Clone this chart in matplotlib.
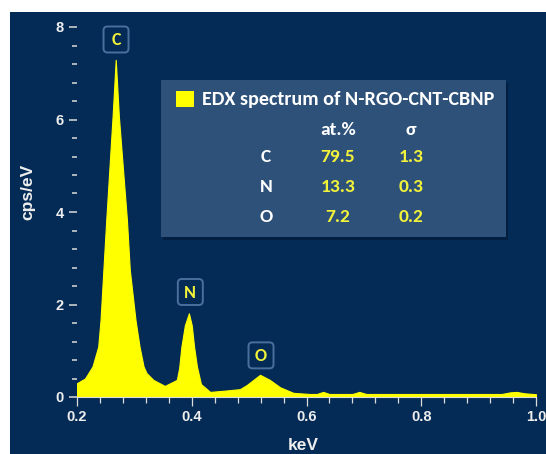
import matplotlib.pyplot as plt
from matplotlib.patches import Rectangle, FancyBboxPatch
from matplotlib.ticker import MultipleLocator

# EDX spectrum, counts per eV vs energy
kev = [0.200, 0.214, 0.227, 0.237, 0.241, 0.246, 0.251, 0.262, 0.2675, 0.273,
       0.287, 0.292, 0.302, 0.309, 0.316, 0.321, 0.333, 0.353, 0.374, 0.378,
       0.382, 0.388, 0.395, 0.400, 0.404, 0.409, 0.416, 0.432, 0.460, 0.484,
       0.496, 0.519, 0.536, 0.554, 0.577, 0.606, 0.618, 0.629, 0.640, 0.680,
       0.692, 0.704, 0.940, 0.955, 0.966, 0.980, 1.000]
cps = [0.30, 0.40, 0.66, 1.09, 1.66, 2.75, 3.83, 6.06, 7.29, 6.06,
       3.83, 2.75, 1.66, 1.09, 0.66, 0.52, 0.37, 0.24, 0.37, 0.62,
       1.09, 1.55, 1.81, 1.55, 1.09, 0.66, 0.28, 0.11, 0.14, 0.17,
       0.26, 0.48, 0.37, 0.21, 0.09, 0.065, 0.065, 0.11, 0.065, 0.065,
       0.11, 0.065, 0.065, 0.10, 0.11, 0.08, 0.06]

# peak markers: element, energy, height of the label
peak_names = ["C", "N", "O"]
peak_kev = [0.268, 0.3975, 0.5207]
peak_label_y = [7.73, 2.27, 0.90]

# quantification table
elements = ["C", "N", "O"]
at_percent = ["79.5", "13.3", "7.2"]
sigma = ["1.3", "0.3", "0.2"]
legend_title = "EDX spectrum of N-RGO-CNT-CBNP"

NAVY = "#042b56"
PANEL = "#2d5179"
YELLOW = "#ffff00"
LABEL_YEL = "#f2f23a"
GREY = "#dcdcdc"
AXFONT = "Liberation Sans"
BOXFONT = "Carlito"

W, H = 546, 454
fig = plt.figure(figsize=(W / 100, H / 100), dpi=100)
fig.patch.set_facecolor("white")


def fx(px):
    return px / W


def fy(py):
    return 1 - py / H


# dark backdrop
fig.patches.append(Rectangle((fx(10), 0), 1 - fx(10), fy(12), transform=fig.transFigure,
                             facecolor=NAVY, edgecolor="none", zorder=-5))

ax_l, ax_r, ax_t, ax_b = 77, 536, 27, 397
ax = fig.add_axes([fx(ax_l), fy(ax_b), fx(ax_r) - fx(ax_l), fy(ax_t) - fy(ax_b)])
ax.patch.set_alpha(0)

ax.fill_between(kev, 0, cps, color=YELLOW, lw=0.8, zorder=2)

xmin, xmax, ymin, ymax = 0.2, 1.0, 0, 8
ax.set_xlim(xmin, xmax)
ax.set_ylim(ymin, ymax)
ax.xaxis.set_major_locator(MultipleLocator(0.2))
ax.xaxis.set_minor_locator(MultipleLocator(0.04))
ax.yaxis.set_major_locator(MultipleLocator(2))
ax.yaxis.set_minor_locator(MultipleLocator(0.4))
ax.xaxis.set_major_formatter(plt.FuncFormatter(lambda v, p: f"{v:.1f}"))

for s in ["top", "right", "left"]:
    ax.spines[s].set_visible(False)
ax.spines["bottom"].set_color(GREY)
ax.spines["bottom"].set_linewidth(0.8)

ax.tick_params(axis="both", which="both", colors=GREY, direction="out")
ax.tick_params(axis="y", which="major", length=5.5, width=1.1, pad=4, labelsize=10.5)
ax.tick_params(axis="y", which="minor", length=3.5, width=1.1)
ax.tick_params(axis="x", which="major", length=6.5, width=0.9, pad=3, labelsize=10.5)
ax.tick_params(axis="x", which="minor", length=4, width=0.9)
for lab in ax.get_xticklabels() + ax.get_yticklabels():
    lab.set_fontweight("bold")
    lab.set_family(AXFONT)
    lab.set_color("#eeeeee")

fig.text(fx(303), fy(446), "keV", color="#eeeeee", fontsize=12.5, fontweight="bold",
         family=AXFONT, ha="center", va="center")
fig.text(fx(28), fy(192), "cps/eV", color="#eeeeee", fontsize=12.5, fontweight="bold",
         family=AXFONT, ha="center", va="center", rotation=90)

# element labels above the peaks: rounded frames ~25x26 px
kx = (xmax - xmin) / (ax_r - ax_l)   # keV per pixel
ky = (ymax - ymin) / (ax_b - ax_t)   # cps/eV per pixel
bw, bh = 25 * kx, 26 * ky
for name, xk, yl in zip(peak_names, peak_kev, peak_label_y):
    ax.add_patch(FancyBboxPatch((xk - bw / 2, yl - bh / 2), bw, bh,
                                boxstyle=f"round,pad=0,rounding_size={4 * kx}",
                                mutation_aspect=ky / kx, fc=NAVY, ec="#4a6f9c",
                                lw=1.4, clip_on=False, zorder=4))
    ax.text(xk, yl - 0.02, name, color=LABEL_YEL, fontsize=13, fontweight="bold",
            family=BOXFONT, ha="center", va="center", clip_on=False, zorder=5)

# quantification panel
x0, y0, x1, y1 = 161, 80, 506, 237
fig.patches.append(Rectangle((fx(x0 + 2), fy(y1 + 3)), fx(x1) - fx(x0), fy(y0) - fy(y1),
                             transform=fig.transFigure, facecolor="#021d3c",
                             edgecolor="none", zorder=3, alpha=0.8))
fig.patches.append(Rectangle((fx(x0), fy(y1)), fx(x1) - fx(x0), fy(y0) - fy(y1),
                             transform=fig.transFigure, facecolor=PANEL,
                             edgecolor="none", zorder=3))
fig.patches.append(Rectangle((fx(176), fy(107)), fx(194) - fx(176), fy(91) - fy(107),
                             transform=fig.transFigure, facecolor=YELLOW,
                             edgecolor="none", zorder=4))

tfont = dict(family=BOXFONT, fontweight="bold", va="center", zorder=5)
fig.text(fx(202), fy(99), legend_title, color="white", ha="left", fontsize=14.5, **tfont)
fig.text(fx(338), fy(130), "at.%", color="white", ha="center", fontsize=14, **tfont)
fig.text(fx(411), fy(130), "σ", color="white", ha="center", fontsize=14, **tfont)
row_y = [157, 187, 217]
for el, at, sg, ry in zip(elements, at_percent, sigma, row_y):
    fig.text(fx(266), fy(ry), el, color="white", ha="center", fontsize=14, **tfont)
    fig.text(fx(338), fy(ry), at, color=LABEL_YEL, ha="center", fontsize=14, **tfont)
    fig.text(fx(411), fy(ry), sg, color=LABEL_YEL, ha="center", fontsize=14, **tfont)

fig.savefig("out.png", dpi=100)
